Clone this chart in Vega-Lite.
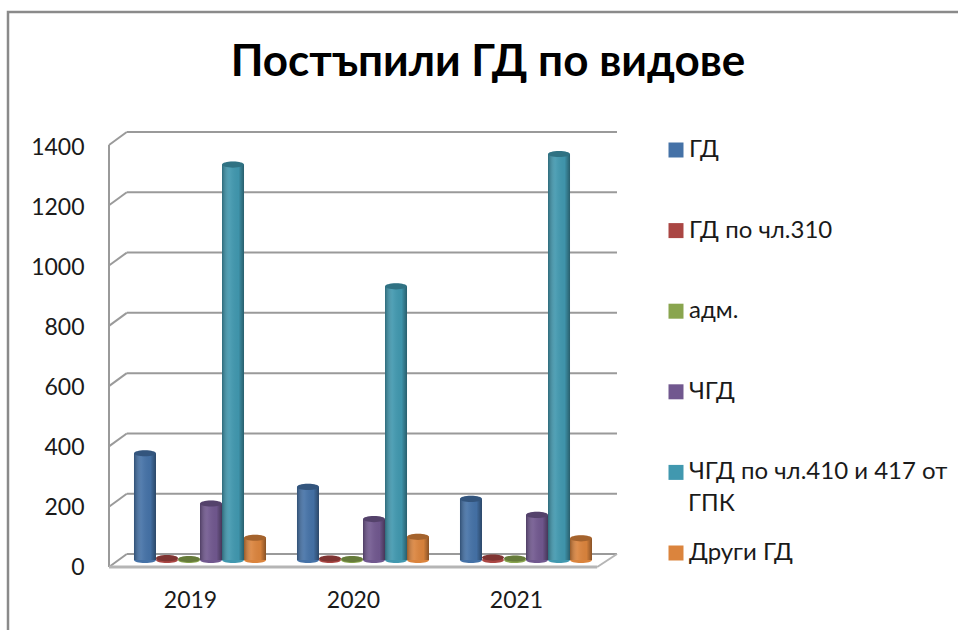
{"$schema":"https://vega.github.io/schema/vega-lite/v6.json","width":960,"height":620,"autosize":{"type":"none"},"padding":{"left":8,"top":12,"right":0,"bottom":0},"background":"white","view":{"stroke":"#8a8a8a","strokeWidth":2.5},"config":{"font":"Lato"},
"title":{"text":"Постъпили ГД по видове","font":"Lato","fontSize":44,"fontWeight":"bold","color":"#000000","anchor":"middle","offset":-73,"dx":0},
"datasets":{"vals":[
{"year":"2019","series":"ГД","value":355},{"year":"2019","series":"ГД по чл.310","value":6},{"year":"2019","series":"адм.","value":3},{"year":"2019","series":"ЧГД","value":188},{"year":"2019","series":"ЧГД по чл.410 и 417 от ГПК","value":1315},{"year":"2019","series":"Други ГД","value":74},
{"year":"2020","series":"ГД","value":243},{"year":"2020","series":"ГД по чл.310","value":5},{"year":"2020","series":"адм.","value":3},{"year":"2020","series":"ЧГД","value":136},{"year":"2020","series":"ЧГД по чл.410 и 417 от ГПК","value":910},{"year":"2020","series":"Други ГД","value":77},
{"year":"2021","series":"ГД","value":203},{"year":"2021","series":"ГД по чл.310","value":8},{"year":"2021","series":"адм.","value":5},{"year":"2021","series":"ЧГД","value":150},{"year":"2021","series":"ЧГД по чл.410 и 417 от ГПК","value":1350},{"year":"2021","series":"Други ГД","value":72}],
"wall":[{"v":0,"front":-43},{"v":200,"front":157},{"v":400,"front":357},{"v":600,"front":557},{"v":800,"front":757},{"v":1000,"front":957},{"v":1200,"front":1157},{"v":1400,"front":1357}]},
"resolve":{"scale":{"x":"independent","y":"independent"},"axis":{"x":"independent","y":"independent"}},
"layer":[
{"data":{"name":"wall"},"layer":[
 {"mark":{"type":"rule","color":"#9a9a9a","strokeWidth":2},"encoding":{"x":{"datum":0.035,"type":"quantitative","scale":{"domain":[0,1],"range":[101,609],"nice":false},"axis":null},"x2":{"datum":1},"y":{"field":"v","type":"quantitative","scale":{"domain":[-43,1400],"range":[555,120],"nice":false},"axis":null}}},
 {"mark":{"type":"rule","color":"#9a9a9a","strokeWidth":2},"encoding":{"x":{"datum":0,"type":"quantitative"},"x2":{"datum":0.035},"y":{"field":"front","type":"quantitative"},"y2":{"field":"v"}}},
 {"transform":[{"filter":"datum.v==1400"}],"mark":{"type":"rule","color":"#9a9a9a","strokeWidth":2},"encoding":{"x":{"datum":0,"type":"quantitative"},"y":{"field":"front","type":"quantitative"},"y2":{"datum":-43}}},
 {"transform":[{"filter":"datum.v==0"}],"mark":{"type":"rule","color":"#b5b5b5","strokeWidth":3},"encoding":{"x":{"datum":0,"type":"quantitative"},"x2":{"datum":0.961},"y":{"field":"front","type":"quantitative"}}},
 {"transform":[{"filter":"datum.v==0"}],"mark":{"type":"rule","color":"#b5b5b5","strokeWidth":2},"encoding":{"x":{"datum":0.961,"type":"quantitative"},"x2":{"datum":1},"y":{"field":"front","type":"quantitative"},"y2":{"field":"v"}}},
 {"data":{"values":[{"t":"ГПК"}]},"mark":{"type":"text","font":"Lato","fontSize":24,"color":"#1a1a1a","align":"left","baseline":"middle"},"encoding":{"text":{"field":"t"},"x":{"datum":1.14,"type":"quantitative"},"y":{"datum":166,"type":"quantitative"}}}
]},
{"data":{"name":"wall"},"mark":{"type":"rule","opacity":0},"encoding":{"y":{"field":"v","type":"quantitative","scale":{"domain":[0,1400],"range":[555,135],"nice":false},"axis":{"orient":"left","offset":-76,"values":[0,200,400,600,800,1000,1200,1400],"format":"d","domain":false,"ticks":false,"grid":false,"title":null,"labelPadding":0,"labelFont":"Lato","labelFontSize":23,"labelColor":"#1a1a1a"}}}},
{"data":{"name":"vals"},"layer":[
 {"mark":{"type":"point","filled":true,"opacity":1,"shape":"M-1,0 A1,0.28 0 1,1 1,0 A1,0.28 0 1,1 -1,0 Z","size":484},"encoding":{"x":{"field":"year","type":"nominal","scale":{"range":[110.5,599.5],"paddingInner":0.19,"paddingOuter":0.095},"axis":{"orient":"bottom","offset":-32,"title":null,"domain":false,"ticks":false,"labelAngle":0,"labelPadding":0,"labelOffset":-9.5,"labelFont":"Lato","labelFontSize":23,"labelColor":"#1a1a1a","labelBaseline":"middle"}},"xOffset":{"field":"series","type":"nominal","sort":null,"scale":{"domain":["ГД","ГД по чл.310","адм.","ЧГД","ЧГД по чл.410 и 417 от ГПК","Други ГД"]}},"y":{"datum":0,"type":"quantitative","axis":null,"scale":{"domain":[0,1400],"range":[548,127],"nice":false}},"color":{"field":"series","type":"nominal","scale":{"domain":["ГД","ГД по чл.310","адм.","ЧГД","ЧГД по чл.410 и 417 от ГПК","Други ГД"],"range":["#4572A7","#AA4643","#89A54E","#71588F","#4198AF","#DB843D"]},"legend":{"orient":"none","legendX":656,"legendY":126,"title":null,"symbolType":"square","symbolSize":225,"symbolStrokeWidth":0,"symbolOpacity":1,"labelFont":"Lato","labelFontSize":24,"labelColor":"#1a1a1a","labelLimit":320,"rowPadding":56.6,"labelOffset":1,"labelExpr":"datum.label=='ЧГД по чл.410 и 417 от ГПК'?'ЧГД по чл.410 и 417 от':datum.label"}}}},
 {"transform":[{"filter":"datum.value>20"}],"mark":{"type":"bar"},"encoding":{"x":{"field":"year","type":"nominal"},"xOffset":{"field":"series","type":"nominal","sort":null},"y":{"field":"value","type":"quantitative","axis":null},"y2":{"datum":0},"color":{"field":"series","type":"nominal"}}},
 {"transform":[{"filter":"datum.value>20"}],"mark":{"type":"bar","color":{"gradient":"linear","x1":0,"x2":1,"y1":0,"y2":0,"stops":[{"offset":0,"color":"rgba(0,0,0,0.3)"},{"offset":0.35,"color":"rgba(255,255,255,0.08)"},{"offset":0.75,"color":"rgba(0,0,0,0.03)"},{"offset":1,"color":"rgba(0,0,0,0.38)"}]}},"encoding":{"x":{"field":"year","type":"nominal"},"xOffset":{"field":"series","type":"nominal","sort":null},"y":{"field":"value","type":"quantitative","axis":null},"y2":{"datum":0}}},
 {"mark":{"type":"point","filled":true,"opacity":1,"shape":"M-1,0 A1,0.28 0 1,1 1,0 A1,0.28 0 1,1 -1,0 Z","size":484},"encoding":{"x":{"field":"year","type":"nominal"},"xOffset":{"field":"series","type":"nominal","sort":null},"y":{"field":"value","type":"quantitative","axis":null},"color":{"field":"series","type":"nominal"}}},
 {"mark":{"type":"point","filled":true,"opacity":0.25,"color":"#000000","shape":"M-1,0 A1,0.28 0 1,1 1,0 A1,0.28 0 1,1 -1,0 Z","size":484},"encoding":{"x":{"field":"year","type":"nominal"},"xOffset":{"field":"series","type":"nominal","sort":null},"y":{"field":"value","type":"quantitative","axis":null}}}
]}
]}
